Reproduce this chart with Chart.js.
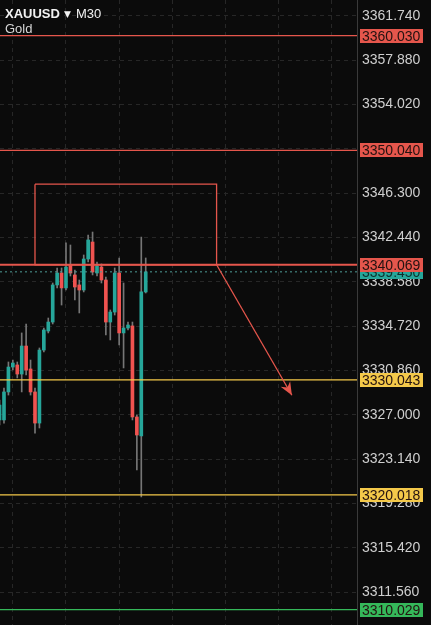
<!DOCTYPE html>
<html>
<head>
<meta charset="utf-8">
<script src="https://cdn.jsdelivr.net/npm/chart.js@4.4.1/dist/chart.umd.min.js"></script>
<style>
  html, body { margin: 0; padding: 0; background: #0b0b0b; overflow: hidden; }
  #wrap { width: 431px; height: 625px; }
</style>
</head>
<body>
<div id="wrap"><canvas id="priceChart" width="431" height="625"></canvas></div>
<script>
const symbol = "XAUUSD";
const timeframe = "M30";
const subtitle = "Gold";

// M30 candles, oldest first (the first one is cut off at the left edge)
const opens  = [3326.55, 3326.55, 3328.99, 3331.16, 3331.34, 3330.55, 3332.99, 3330.99, 3328.99, 3326.28,
                3332.64, 3334.30, 3335.08, 3338.31, 3339.35, 3338.05, 3340.05, 3339.18, 3338.31, 3337.87,
                3340.57, 3342.05, 3339.35, 3339.87, 3338.74, 3335.08, 3335.95, 3339.35, 3334.13, 3334.56,
                3334.74, 3326.81, 3325.15, 3337.70];
const highs  = [3328.29, 3329.33, 3331.60, 3331.77, 3331.60, 3334.13, 3334.91, 3331.77, 3329.33, 3332.82,
                3334.56, 3335.43, 3338.48, 3339.79, 3339.79, 3341.97, 3341.79, 3339.61, 3338.74, 3340.92,
                3342.66, 3342.92, 3340.31, 3340.14, 3339.00, 3336.13, 3339.79, 3340.66, 3338.48, 3335.08,
                3335.08, 3326.98, 3342.49, 3340.66];
const lows   = [3326.11, 3326.28, 3328.72, 3330.90, 3330.21, 3328.99, 3330.47, 3328.72, 3325.41, 3325.85,
                3332.47, 3334.13, 3334.91, 3338.05, 3336.56, 3337.87, 3339.09, 3337.00, 3335.87, 3337.70,
                3340.31, 3339.18, 3339.09, 3338.48, 3333.95, 3333.52, 3335.69, 3333.08, 3331.08, 3334.39,
                3326.55, 3322.19, 3319.84, 3337.61];
const closes = [3327.85, 3328.99, 3331.16, 3331.51, 3330.55, 3332.99, 3330.90, 3328.99, 3326.28, 3332.64,
                3334.39, 3335.08, 3338.31, 3339.35, 3338.05, 3339.87, 3339.35, 3338.13, 3337.87, 3340.57,
                3342.23, 3339.44, 3339.96, 3338.74, 3335.08, 3335.95, 3339.35, 3334.13, 3334.56, 3334.82,
                3326.81, 3325.24, 3337.70, 3339.45];

const currentPrice = 3339.45;
const levelPrices = [3360.030, 3350.040, 3340.069, 3330.043, 3320.018, 3310.029];

const priceTicks = ["3361.740", "3357.880", "3354.020", "3350.160", "3346.300", "3342.440", "3338.580",
                    "3334.720", "3330.860", "3327.000", "3323.140", "3319.280", "3315.420", "3311.560"];
const timeGrid = [9, 21, 33, 45, 57, 69];

// drawn box and arrow (candle index, price)
const boxX = [8, 49, 49, 8, 8];
const boxY = [3347.09, 3347.09, 3340.069, 3340.069, 3347.09];
const arrowX = [49, 66];
const arrowY = [3340.069, 3328.70];

const xMin = 0.1, xMax = 80.7;
const yMin = 3308.69, yMax = 3363.13;

const UP = "#26a69a";
const DOWN = "#ef5350";
const RED = "#e5564c";
const YELLOW = "#f4c94a";
const GREEN = "#35b85a";
const levelColors = [RED, RED, RED, YELLOW, YELLOW, GREEN];

const idx = opens.map((_, i) => i);

function lineSet(xs, ys, color, width, order, dash) {
    return {
        type: "line",
        data: xs.map((x, i) => ({ x: x, y: ys[i] })),
        borderColor: color,
        borderWidth: width,
        borderDash: dash || [],
        pointRadius: 0,
        tension: 0,
        fill: false,
        order: order
    };
}

const datasets = [
    {
        type: "bar",
        data: idx.map(i => ({ x: i, y: [lows[i], highs[i]] })),
        backgroundColor: "#767676",
        barThickness: 1,
        grouped: false,
        order: 6
    },
    {
        type: "bar",
        data: idx.map(i => ({ x: i, y: [opens[i], closes[i]] })),
        backgroundColor: ctx => closes[ctx.dataIndex] >= opens[ctx.dataIndex] ? UP : DOWN,
        barThickness: 3,
        grouped: false,
        order: 5
    },
    lineSet([xMin, xMax], [currentPrice, currentPrice], "#4e9d97", 1, 4, [2, 3])
];
levelPrices.forEach((p, i) => {
    datasets.push(lineSet([xMin, xMax], [p, p], levelColors[i], i === 2 ? 2 : 1.3, 3));
});
datasets.push(lineSet(boxX, boxY, RED, 1.3, 2));
datasets.push(lineSet(arrowX, arrowY, RED, 1.3, 1));

const overlay = {
    id: "overlay",
    afterDatasetsDraw(chart) {
        const { ctx, scales } = chart;
        const x1 = scales.x.getPixelForValue(arrowX[0]);
        const y1 = scales.y.getPixelForValue(arrowY[0]);
        const x2 = scales.x.getPixelForValue(arrowX[1]);
        const y2 = scales.y.getPixelForValue(arrowY[1]);
        const a = Math.atan2(y2 - y1, x2 - x1);
        const len = 13, half = 5.5;
        const bx = x2 - len * Math.cos(a), by = y2 - len * Math.sin(a);
        const nx = -Math.sin(a), ny = Math.cos(a);
        ctx.save();
        ctx.fillStyle = RED;
        ctx.beginPath();
        ctx.moveTo(x2, y2);
        ctx.lineTo(bx + nx * half, by + ny * half);
        ctx.lineTo(x2 - 9 * Math.cos(a), y2 - 9 * Math.sin(a));
        ctx.lineTo(bx - nx * half, by - ny * half);
        ctx.closePath();
        ctx.fill();
        ctx.restore();
    },
    afterDraw(chart) {
        const { ctx, chartArea, scales } = chart;
        const left = chartArea.right + 3;
        ctx.save();
        ctx.font = "14px 'Liberation Sans', Arial, sans-serif";
        ctx.textBaseline = "middle";

        const tag = (price, bg, fg) => {
            const y = Math.round(scales.y.getPixelForValue(price));
            ctx.fillStyle = bg;
            ctx.fillRect(left, y - 7, 63, 14);
            ctx.fillStyle = fg;
            ctx.fillText(price.toFixed(3), left + 2, y + 1);
        };
        tag(currentPrice, "#26a69a", "#0d2f2c");
        levelPrices.forEach((p, i) => tag(p, levelColors[i], "#241210"));

        // symbol header
        ctx.textBaseline = "alphabetic";
        ctx.fillStyle = "#f2f2f2";
        ctx.font = "bold 13px 'Liberation Sans', Arial, sans-serif";
        ctx.fillText(symbol, 5, 18);
        let x = 5 + ctx.measureText(symbol).width + 4;
        ctx.font = "9px 'DejaVu Sans', sans-serif";
        ctx.fillText("▼", x, 17);
        x += 12;
        ctx.font = "13px 'Liberation Sans', Arial, sans-serif";
        ctx.fillText(timeframe, x, 18);
        ctx.fillStyle = "#d6d6d6";
        ctx.fillText(subtitle, 5, 33);
        ctx.restore();
    }
};

new Chart(document.getElementById("priceChart"), {
    type: "bar",
    data: { datasets: datasets },
    options: {
        responsive: false,
        animation: false,
        devicePixelRatio: 1,
        layout: { padding: 0 },
        plugins: { legend: { display: false }, tooltip: { enabled: false } },
        scales: {
            x: {
                type: "linear",
                min: xMin,
                max: xMax,
                offset: false,
                afterBuildTicks: s => { s.ticks = timeGrid.map(v => ({ value: v })); },
                afterFit: s => { s.height = 0; },
                ticks: { display: false },
                grid: { color: "#272727", drawTicks: false },
                border: { display: false, dash: [4, 4] }
            },
            y: {
                position: "right",
                min: yMin,
                max: yMax,
                afterBuildTicks: s => { s.ticks = priceTicks.map(t => ({ value: parseFloat(t) })); },
                afterFit: s => { s.width = 74; s.paddingTop = 0; s.paddingBottom = 0; },
                ticks: {
                    autoSkip: false,
                    color: "#cfcfcf",
                    padding: 5,
                    font: { family: "'Liberation Sans', Arial, sans-serif", size: 14 },
                    callback: (v, i) => priceTicks[i]
                },
                grid: { color: "#272727", drawTicks: false },
                border: { display: true, color: "#3a3a3a", dash: [4, 4] }
            }
        }
    },
    plugins: [overlay]
});
</script>
</body>
</html>
